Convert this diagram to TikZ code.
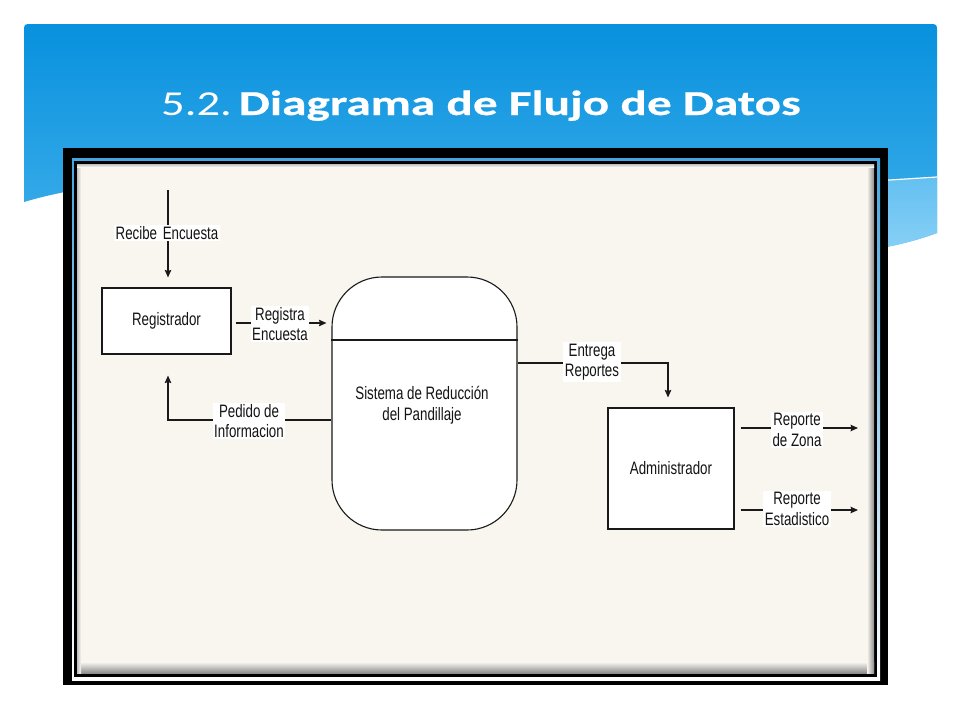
\documentclass[tikz,border=0pt]{standalone}
\usepackage{fontspec}
\setmainfont{Liberation Sans}
\newfontfamily\titlefont[FakeStretch=1.33]{Carlito}
\newfontfamily\titleboldfont[FakeStretch=1.41,FakeBold=0.5]{Carlito}
\newfontfamily\dfdfont[FakeStretch=0.74]{Liberation Sans}
\usetikzlibrary{arrows.meta,calc}
\definecolor{blueTop}{RGB}{8,145,222}
\definecolor{blueBot}{RGB}{80,184,238}
\definecolor{blueLtA}{RGB}{100,192,241}
\definecolor{blueLtB}{RGB}{145,212,247}
\definecolor{stripBlue}{RGB}{70,165,225}
\definecolor{cream}{RGB}{249,246,240}
\definecolor{txt}{RGB}{20,20,20}
\definecolor{lineC}{RGB}{25,25,25}
\tikzset{
  dfdtext/.style={font=\dfdfont\fontsize{18}{20.5}\selectfont, text=txt, align=center},
  box/.style={dfdtext, draw=lineC, fill=white, line width=1.1pt, inner sep=0pt},
  lbl/.style={dfdtext, fill=white, inner sep=1.5pt},
  flow/.style={draw=lineC, line width=1.25pt, -{Stealth[length=7.5pt,width=6.5pt,inset=1pt]}},
}
\begin{document}
\begin{tikzpicture}[x=1pt,y=-1pt]
\useasboundingbox (0,0) rectangle (960,720);
\fill[white] (0,0) rectangle (960,720);
% banner
\shade[top color=blueTop, bottom color=blueBot]
  (24,202) -- (24,32) .. controls (24,24) .. (32,24) -- (929,24)
  .. controls (937,24) .. (937,32) -- (937,233)
  .. controls (700,320) and (300,120) .. (24,202) -- cycle;
\begin{scope}
  \clip (24,202) -- (24,32) -- (937,32) -- (937,233)
  .. controls (700,320) and (300,120) .. (24,202) -- cycle;
  \shade[top color=blueLtA, bottom color=blueLtB] (700,192) -- (937,177) -- (937,270) -- (700,270) -- cycle;
  \draw[white, line width=1.2pt] (700,192) -- (937,177);
\end{scope}
% title
\node[text=white, anchor=base west, inner sep=0pt] (title) at (161,115)
  {\titlefont\fontsize{35}{40}\selectfont 5.2.\hspace{7pt}{\titleboldfont\bfseries Diagrama de Flujo de Datos}};
% frame
\fill[black] (63,148) rectangle (888,685);
\shade[top color=stripBlue, bottom color=white] (72,158) rectangle (880,680);
\fill[black] (74,161) rectangle (877,677);
\fill[cream] (77,164) rectangle (874,673);
\shade[top color=cream, bottom color=black!45] (77,662) rectangle (874,673);
\shade[left color=cream, right color=black!45] (867,164) rectangle (874,673);
\shade[right color=cream, left color=black!25] (77,164) rectangle (81,673);
\shade[bottom color=cream, top color=black!25] (77,164) rectangle (874,167);
% nodes
\node[box, minimum width=129pt, minimum height=66pt] (reg) at (166.5,321) {Registrador};
\node[box, rounded corners=50pt, minimum width=185pt, minimum height=253pt] (proc) at (424.5,403.5) {};
\draw[lineC, line width=1.1pt] ([yshift=63.5pt]proc.west) -- ([yshift=63.5pt]proc.east);
\node[dfdtext] (ptxt) at (422,405) {Sistema de Reducción\\del Pandillaje};
\node[box, minimum width=126pt, minimum height=121pt] (adm) at (671,468.5) {Administrador};
\coordinate (rcv) at (168,190);
\coordinate (z1) at (858,428);
\coordinate (z2) at (858,510);
% flows
\draw[flow, shorten >=10pt] (rcv) -- (rcv |- reg.north);
\draw[flow, shorten <=4pt, shorten >=5pt] ([yshift=-2pt]reg.east) -- ([yshift=-2pt]reg.east -| proc.west);
\draw[flow, shorten >=21pt] ([yshift=-16.5pt]proc.west) -| ([xshift=1.5pt]reg.south);
\draw[flow, shorten >=10pt] ([yshift=40.5pt]proc.east) -| ([xshift=-3pt]adm.north);
\draw[flow, shorten <=6pt] ([yshift=40.5pt]adm.east) -- (z1);
\draw[flow, shorten <=6pt] ([yshift=-41.5pt]adm.east) -- (z2);
% labels
\node[lbl] (l1) at (167,233) {Recibe\hspace{2pt} Encuesta};
\node[lbl] (l2) at (280,324) {Registra\\Encuesta};
\node[lbl] (l3) at (249,421) {Pedido de\\Informacion};
\node[lbl] (l4) at (592,362) {Entrega\\Reportes};
\node[lbl] (l5) at (797,430) {Reporte\\de Zona};
\node[lbl] (l6) at (797,509) {Reporte\\Estadistico};
\end{tikzpicture}
\end{document}
